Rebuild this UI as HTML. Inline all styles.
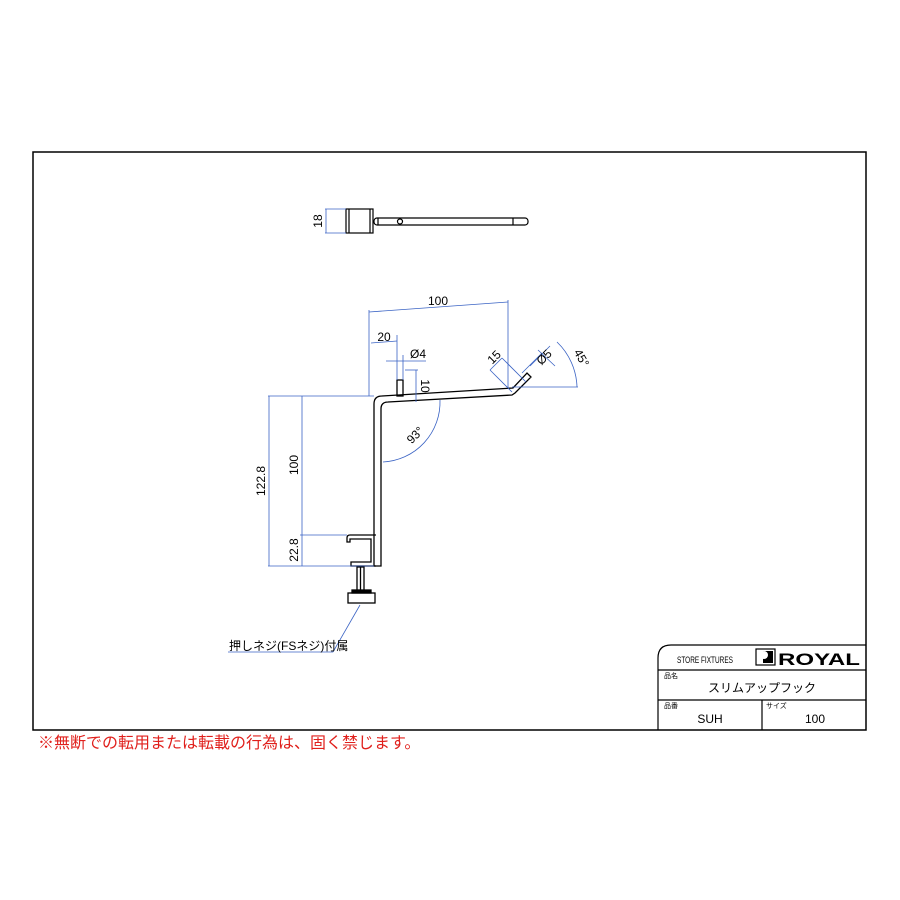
<!DOCTYPE html>
<html><head><meta charset="utf-8"><style>
body{margin:0;background:#fff}
svg{display:block}
text{font-family:"Liberation Sans","Noto Sans CJK JP",sans-serif}
</style></head><body>
<svg width="900" height="900" viewBox="0 0 900 900" xmlns="http://www.w3.org/2000/svg">
<rect x="33" y="152" width="833" height="578" fill="none" stroke="#000" stroke-width="1.5"/>
<!-- top view -->
<g stroke="#000" fill="none" stroke-width="1.2">
<rect x="346" y="209" width="27" height="24"/>
<line x1="349" y1="209" x2="349" y2="233"/>
<line x1="370" y1="209" x2="370" y2="233"/>
<rect x="374" y="218" width="154" height="7" rx="3"/>
<circle cx="400" cy="221.5" r="2.5"/>
<line x1="378" y1="218" x2="378" y2="225"/><line x1="513" y1="218" x2="513" y2="225"/>
</g>
<g stroke="#3a63c4" stroke-width="0.8" fill="none">
<line x1="325" y1="209" x2="346" y2="209"/><line x1="325" y1="233" x2="346" y2="233"/>
<line x1="326" y1="209" x2="326" y2="233"/>
</g>
<text x="322" y="221" font-size="12" transform="rotate(-90 322 221)" text-anchor="middle">18</text>
<!-- side view -->
<g stroke="#000" fill="none" stroke-width="1.3">
<path d="M374 566 L374 404 Q374 396 382 396 L513 388 L527 373 L531 377 L515 393 L512 395 L388 402 Q381 402 381 409 L381 566 Z"/>
<rect x="397" y="380" width="6" height="16"/>
<path d="M376 535 L350 535 Q347 535 347 538 L347 542 L350 542 L350 539 L371 539 L371 562 L351 562 L351 566 L376 566"/>
<rect x="357" y="567" width="7" height="24"/>
<line x1="360.5" y1="567" x2="360.5" y2="591"/>
<rect x="348" y="593" width="27" height="10"/>
<rect x="352" y="590" width="19" height="3" fill="#000"/>
</g>
<g stroke="#3a63c4" stroke-width="0.8" fill="none">
<line x1="268" y1="396" x2="374" y2="396"/><line x1="268" y1="566" x2="374" y2="566"/>
<line x1="300" y1="535" x2="347" y2="535"/>
<line x1="269" y1="396" x2="269" y2="566"/>
<line x1="302" y1="396" x2="302" y2="535"/><line x1="302" y1="535" x2="302" y2="566"/>
<line x1="369" y1="310" x2="369" y2="396"/><line x1="508" y1="300" x2="508" y2="388"/>
<line x1="369" y1="312" x2="508" y2="302"/>
<line x1="371" y1="343" x2="397" y2="341"/><line x1="397" y1="335" x2="397" y2="380"/>
<line x1="386" y1="361" x2="426" y2="361"/><line x1="403" y1="355" x2="403" y2="380"/>
<line x1="405" y1="370" x2="418" y2="370"/>
<line x1="416" y1="370" x2="416" y2="402"/>
<line x1="512" y1="387" x2="578" y2="387"/>
<line x1="512" y1="392" x2="490" y2="370"/><line x1="490" y1="370" x2="502" y2="358"/>
<line x1="502" y1="358" x2="526" y2="382"/>
<line x1="530" y1="366" x2="550" y2="346"/><line x1="522" y1="373" x2="542" y2="353"/><line x1="538" y1="350" x2="555" y2="366"/>
<path d="M557 342 A65 65 0 0 1 577 387"/>
<path d="M440 400 A60 60 0 0 1 383 462"/>
<line x1="360" y1="605" x2="333" y2="652"/><line x1="228" y1="652" x2="333" y2="652"/>
</g>
<g font-size="12" fill="#000">
<text x="438" y="305" text-anchor="middle">100</text>
<text x="384" y="341" text-anchor="middle">20</text>
<text x="410" y="358">Ø4</text>
<text x="421" y="386" transform="rotate(90 421 386)" text-anchor="middle">10</text>
<text x="497" y="360" transform="rotate(-45 497 360)" text-anchor="middle">15</text>
<text x="547" y="360" transform="rotate(-45 547 360)" text-anchor="middle">Ø5</text>
<text x="578" y="360" transform="rotate(60 578 360)" text-anchor="middle">45°</text>
<text x="418" y="438" transform="rotate(-45 418 438)" text-anchor="middle">93°</text>
<text x="265" y="481" transform="rotate(-90 265 481)" text-anchor="middle">122.8</text>
<text x="298" y="465" transform="rotate(-90 298 465)" text-anchor="middle">100</text>
<text x="298" y="550" transform="rotate(-90 298 550)" text-anchor="middle">22.8</text>
<text x="229" y="650">押しネジ(FSネジ)付属</text>
</g>
<!-- title block -->
<g stroke="#000" fill="none" stroke-width="1.2">
<path d="M658 730 L658 658 Q658 645 671 645 L866 645"/>
<line x1="658" y1="670" x2="866" y2="670"/>
<line x1="658" y1="700" x2="866" y2="700"/>
<line x1="762" y1="700" x2="762" y2="730"/>
<rect x="756" y="649" width="19" height="16"/>
</g>
<rect x="763" y="651" width="10" height="12" fill="#000"/>
<circle cx="764" cy="655" r="4" fill="#fff"/>
<text x="705" y="663" font-size="9" text-anchor="middle" textLength="56" lengthAdjust="spacingAndGlyphs">STORE FIXTURES</text>
<text x="778" y="665" font-size="17" font-weight="bold" textLength="82" lengthAdjust="spacingAndGlyphs">ROYAL</text>
<text x="664" y="678" font-size="7">品名</text>
<text x="762" y="692" font-size="12" text-anchor="middle">スリムアップフック</text>
<text x="664" y="708" font-size="7">品番</text>
<text x="766" y="708" font-size="7">サイズ</text>
<text x="710" y="723" font-size="12" text-anchor="middle">SUH</text>
<text x="815" y="723" font-size="12" text-anchor="middle">100</text>
<text x="38" y="748" font-size="16" fill="#e0201c">※無断での転用または転載の行為は、固く禁じます。</text>
</svg>
</body></html>
